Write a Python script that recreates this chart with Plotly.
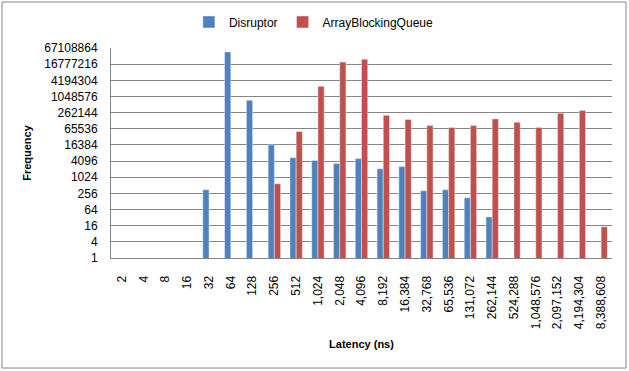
import plotly.graph_objects as go

categories = ["2", "4", "8", "16", "32", "64", "128", "256", "512", "1,024", "2,048",
              "4,096", "8,192", "16,384", "32,768", "65,536", "131,072", "262,144",
              "524,288", "1,048,576", "2,097,152", "4,194,304", "8,388,608"]
disruptor = [None, None, None, None, 350, 48000000, 750000, 16500, 5500, 4300, 3300,
             5100, 2100, 2550, 320, 350, 175, 34, None, None, None, None, None]
abq = [None, None, None, None, None, None, None, 590, 52000, 2500000, 20000000,
       25800000, 207000, 146000, 87000, 73500, 87000, 153000, 114000, 73500,
       248000, 317000, 14.5]
ytick_vals = [4 ** i for i in range(14)]
ytick_text = [str(v) for v in ytick_vals]

GRID = "#868686"
FONT = "Liberation Sans"

fig = go.Figure()
fig.add_trace(go.Bar(x=categories, y=disruptor, name="Disruptor", marker_color="#4F81BD"))
fig.add_trace(go.Bar(x=categories, y=abq, name="ArrayBlockingQueue", marker_color="#C0504D"))

fig.update_layout(
    width=629, height=371,
    margin=dict(l=111, r=17, t=48, b=113, autoexpand=False),
    paper_bgcolor="white", plot_bgcolor="white",
    font=dict(family=FONT, size=12, color="black"),
    barmode="group", bargap=0.43, bargroupgap=0,
    showlegend=True,
    legend=dict(orientation="h", x=0.405, xanchor="center", y=1.124, yanchor="middle",
                font=dict(family=FONT, size=12), itemwidth=30, traceorder="normal"),
    xaxis=dict(type="category", tickangle=-90, showgrid=False, showline=True,
               linecolor=GRID, ticks="", tickfont=dict(size=12), ticklabelstandoff=12,
               automargin=False,
               title=dict(text="<b>Latency (ns)</b>", font=dict(size=11), standoff=12)),
    yaxis=dict(type="log", range=[0, 7.8268], tickvals=ytick_vals, ticktext=ytick_text,
               showgrid=True, gridcolor=GRID, gridwidth=1, showline=True,
               linecolor=GRID, ticks="", tickfont=dict(size=12), ticklabelstandoff=10,
               automargin=False,
               title=dict(text="<b>Frequency</b>", font=dict(size=11), standoff=10)),
    shapes=[dict(type="rect", xref="paper", yref="paper",
                 x0=-0.2176, x1=1.028, y0=-0.524, y1=1.219,
                 line=dict(color=GRID, width=1), layer="below")],
)

fig.write_html("out.html", config={"displayModeBar": False},
               post_script="document.body.style.margin='0';")
